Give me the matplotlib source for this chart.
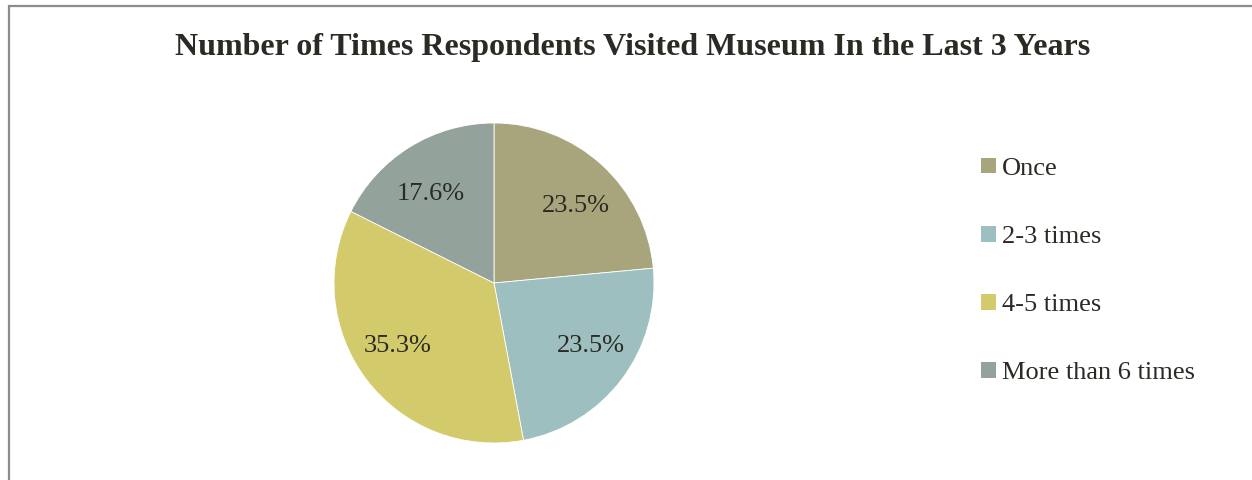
import matplotlib
matplotlib.use("Agg")
import matplotlib.pyplot as plt
from matplotlib.patches import Patch, Rectangle

plt.rcParams['font.family'] = ['Liberation Serif', 'DejaVu Serif']

categories = ['Once', '2-3 times', '4-5 times', 'More than 6 times']
shares = [23.5, 23.5, 35.3, 17.6]
colors = ['#A8A57C', '#9DBFBF', '#D3CB6B', '#93A39C']
title = 'Number of Times Respondents Visited Museum In the Last 3 Years'
text_color = '#2B2A24'

W, H = 1252, 480
fig = plt.figure(figsize=(W / 100, H / 100), dpi=100)
fig.patch.set_facecolor('white')

# chart area border (runs off the right and bottom edges)
fig.add_artist(Rectangle((8.5 / W, -0.2), 2.0, 1.2 - 5.5 / H,
                         transform=fig.transFigure, fill=False,
                         edgecolor='#8C8C8C', linewidth=1.6))

fig.text(633 / W, 1 - 47 / H, title, ha='center', va='center',
         fontsize=23, fontweight='bold', color=text_color)

# pie centred at (494, 283) px with radius 160 px
cx, cy, r = 494, 283, 160
ax = fig.add_axes([(cx - r) / W, (H - cy - r) / H, 2 * r / W, 2 * r / H])
wedges, _, autotexts = ax.pie(shares, colors=colors, startangle=90,
                              counterclock=False, radius=1,
                              autopct='%.1f%%', pctdistance=0.7,
                              wedgeprops=dict(edgecolor='white', linewidth=0.6))
for t in autotexts:
    # spread labels a little sideways, like the spreadsheet layout
    x, y = t.get_position()
    t.set_position((x * 1.08, y * 0.93))
    t.set_fontsize(19)
    t.set_color(text_color)
ax.set_xlim(-1, 1)
ax.set_ylim(-1, 1)
ax.set_aspect('equal')
ax.axis('off')

handles = [Patch(facecolor=c, edgecolor='none') for c in colors]
fig.legend(handles, categories, loc='center left',
           bbox_to_anchor=(981 / W, 1 - 271 / H), bbox_transform=fig.transFigure,
           frameon=False, fontsize=19, labelcolor=text_color,
           handlelength=0.55, handleheight=0.55, handletextpad=0.25,
           labelspacing=1.74, borderpad=0, borderaxespad=0)

fig.savefig('out.png', dpi=100, facecolor='white')
